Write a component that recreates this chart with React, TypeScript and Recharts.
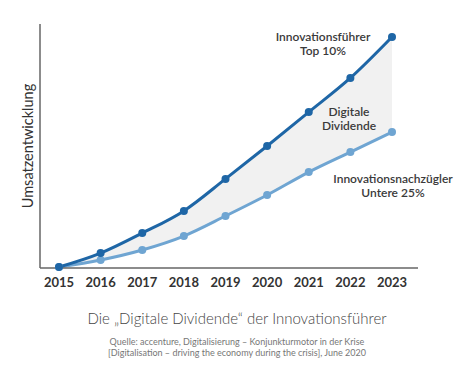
import { ComposedChart, Line, Area, XAxis, YAxis, Label } from 'recharts';

const years = ['2015', '2016', '2017', '2018', '2019', '2020', '2021', '2022', '2023'];
const leaders = [0.4, 6.1, 14.3, 23.4, 36.5, 50, 63.9, 77.9, 94.7];
const laggards = [0.4, 3.3, 7.4, 13.1, 21.3, 29.9, 39.3, 47.5, 55.7];

const data = years.map((y, i) => ({ year: y, top: leaders[i], low: laggards[i], band: [laggards[i], leaders[i]] }));

const font = 'Lato, "Open Sans", sans-serif';

const note = (left: number, top: number, lines: string[]) => (
  <div
    style={{
      position: 'absolute',
      left: left - 80,
      top,
      width: 160,
      textAlign: 'center',
      fontFamily: font,
      fontSize: 12,
      fontWeight: 600,
      lineHeight: '14px',
      color: '#3a3a3a',
    }}
  >
    {lines.map((l) => (
      <div key={l}>{l}</div>
    ))}
  </div>
);

export default function App() {
  return (
    <div style={{ position: 'absolute', left: 0, top: 0, width: 474, height: 370, background: '#fff' }}>
      <ComposedChart width={474} height={370} data={data} margin={{ top: 24, right: 56, left: 10, bottom: 72 }}>
        <XAxis
          dataKey="year"
          scale="point"
          padding={{ left: 19, right: 26 }}
          axisLine={{ stroke: '#666', strokeWidth: 1.5 }}
          tickLine={false}
          tickMargin={4}
          tick={{ fill: '#333', fontSize: 13, fontWeight: 700, fontFamily: font }}
        />
        <YAxis
          width={30}
          domain={[0, 100]}
          tick={false}
          tickLine={false}
          axisLine={{ stroke: '#666', strokeWidth: 1.5 }}
        >
          <Label
            value="Umsatzentwicklung"
            angle={-90}
            position="insideLeft"
            offset={18}
            style={{ fill: '#333', fontSize: 14.5, fontFamily: font, textAnchor: 'middle' }}
          />
        </YAxis>
        <Area dataKey="band" type="monotone" fill="#f1f1f1" fillOpacity={1} stroke="none" isAnimationActive={false} />
        <Line
          dataKey="low"
          type="monotone"
          stroke="#6fa5d2"
          strokeWidth={3}
          dot={{ r: 4, fill: '#6fa5d2', stroke: '#6fa5d2', strokeWidth: 0 }}
          isAnimationActive={false}
        />
        <Line
          dataKey="top"
          type="monotone"
          stroke="#1e66a6"
          strokeWidth={3}
          dot={{ r: 4, fill: '#1e66a6', stroke: '#1e66a6', strokeWidth: 0 }}
          isAnimationActive={false}
        />
      </ComposedChart>
      {note(323, 30, ['Innovationsführer', 'Top 10%'])}
      {note(349, 105, ['Digitale', 'Dividende'])}
      {note(393, 172, ['Innovationsnachzügler', 'Untere 25%'])}
      <div
        style={{
          position: 'absolute',
          left: 0,
          top: 309,
          width: 474,
          textAlign: 'center',
          fontFamily: font,
          fontSize: 15,
          fontWeight: 300,
          color: '#444',
        }}
      >
        Die „Digitale Dividende“ der Innovationsführer
      </div>
      <div
        style={{
          position: 'absolute',
          left: 0,
          top: 336,
          width: 474,
          textAlign: 'center',
          fontFamily: font,
          fontSize: 9,
          lineHeight: '11px',
          color: '#777',
        }}
      >
        <div>Quelle: accenture, Digitalisierung – Konjunkturmotor in der Krise</div>
        <div>[Digitalisation – driving the economy during the crisis], June 2020</div>
      </div>
    </div>
  );
}
